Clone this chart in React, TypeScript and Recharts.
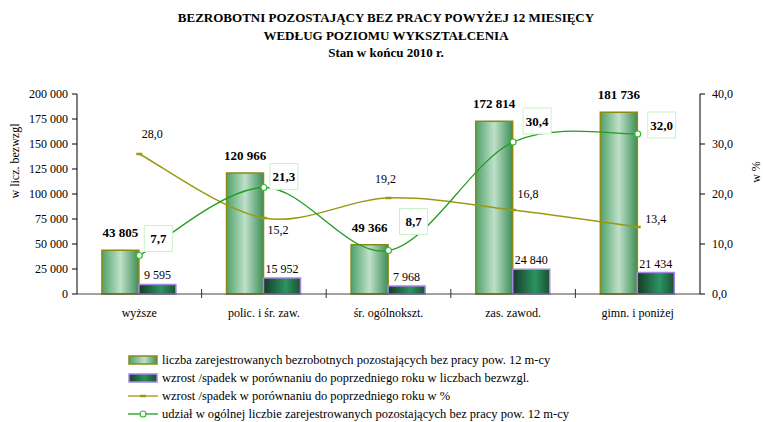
import { Bar, ComposedChart, LabelList, Line, XAxis, YAxis } from 'recharts';

const CATEGORIES = ['wyższe', 'polic. i śr. zaw.', 'śr. ogólnokszt.', 'zas. zawod.', 'gimn. i poniżej'];
const LONG_TERM_COUNT = [43805, 120966, 49366, 172814, 181736];
const CHANGE_ABSOLUTE = [9595, 15952, 7968, 24840, 21434];
const CHANGE_PERCENT = [28.0, 15.2, 19.2, 16.8, 13.4];
const SHARE_PERCENT = [7.7, 21.3, 8.7, 30.4, 32.0];
const LEFT_TICKS = [0, 25000, 50000, 75000, 100000, 125000, 150000, 175000, 200000];
const RIGHT_TICKS = [0, 10, 20, 30, 40];

const TITLE_LINES = [
  'BEZROBOTNI POZOSTAJĄCY BEZ PRACY POWYŻEJ 12 MIESIĘCY',
  'WEDŁUG POZIOMU WYKSZTAŁCENIA',
  'Stan w końcu 2010 r.',
];

const LEGEND_ITEMS = [
  { kind: 'barLight', text: 'liczba zarejestrowanych bezrobotnych pozostających bez pracy pow. 12 m-cy' },
  { kind: 'barDark', text: 'wzrost /spadek w porównaniu do poprzedniego roku w liczbach bezwzgl.' },
  { kind: 'lineOlive', text: 'wzrost /spadek w porównaniu do poprzedniego roku w %' },
  { kind: 'lineGreen', text: 'udział w ogólnej liczbie zarejestrowanych pozostających bez pracy pow. 12 m-cy' },
];

// label nudges (px) relative to each point, as placed in the source chart
const PCT_LABEL_NUDGE = [
  [13, -20],
  [14, 12],
  [-3, -19],
  [15, -16],
  [18, -8],
];
const SHARE_LABEL_NUDGE = [
  [19, -17],
  [20, -11],
  [25, -29],
  [24, -21],
  [24, -9],
];

const rows = CATEGORIES.map((name, i) => ({
  name,
  longTerm: LONG_TERM_COUNT[i],
  changeAbs: CHANGE_ABSOLUTE[i],
  changePct: CHANGE_PERCENT[i],
  share: SHARE_PERCENT[i],
}));

const FONT = '"Liberation Serif", "Times New Roman", serif';
const OLIVE = '#9a9a12';
const GREEN = '#1f9e1f';
const HALF_BAND = 623 / CATEGORIES.length / 2;

function formatThousands(value: number): string {
  return String(Math.round(value)).replace(/\B(?=(\d{3})+(?!\d))/g, ' ');
}

function formatPct(value: number): string {
  return value.toFixed(1).replace('.', ',');
}

// spreadsheet-style smoothed line (Catmull-Rom through every point)
function smoothCurve(context: any) {
  let pts: number[][] = [];
  return {
    areaStart() {},
    areaEnd() {},
    lineStart() {
      pts = [];
    },
    point(x: number, y: number) {
      pts.push([+x, +y]);
    },
    lineEnd() {
      if (!pts.length) return;
      context.moveTo(pts[0][0], pts[0][1]);
      for (let i = 0; i < pts.length - 1; i++) {
        const p0 = pts[i - 1] ?? pts[i];
        const p1 = pts[i];
        const p2 = pts[i + 1];
        const p3 = pts[i + 2] ?? p2;
        context.bezierCurveTo(
          p1[0] + (p2[0] - p0[0]) / 6,
          p1[1] + (p2[1] - p0[1]) / 6,
          p2[0] - (p3[0] - p1[0]) / 6,
          p2[1] - (p3[1] - p1[1]) / 6,
          p2[0],
          p2[1],
        );
      }
    },
  };
}

function CategoryTick(props: any) {
  const { x, y, payload, index } = props;
  const half = payload?.offset || HALF_BAND;
  return (
    <g>
      {index > 0 && <line x1={x - half} x2={x - half} y1={y - 5} y2={y + 4} stroke='#333' />}
      <text x={x} y={y + 23} textAnchor='middle' fontSize={12} fontFamily={FONT} fill='#000'>
        {payload.value}
      </text>
    </g>
  );
}

function makeBarLabel(lift: number, bold: boolean) {
  return function BarLabel(props: any) {
    const { x, y, width, value } = props;
    return (
      <text
        x={Number(x) + Number(width) / 2}
        y={Number(y) - lift}
        textAnchor='middle'
        fontSize={bold ? 13 : 12}
        fontWeight={bold ? 'bold' : 'normal'}
        fontFamily={FONT}
        fill='#000'
      >
        {formatThousands(Number(value))}
      </text>
    );
  };
}

const CountLabel = makeBarLabel(13, true);
const ChangeLabel = makeBarLabel(5, false);

function PctLabel(props: any) {
  const { x, y, value, index } = props;
  const [dx, dy] = PCT_LABEL_NUDGE[index] ?? [0, -12];
  return (
    <text
      x={x + dx}
      y={y + dy}
      textAnchor='middle'
      dominantBaseline='central'
      fontSize={12}
      fontFamily={FONT}
      fill='#000'
    >
      {formatPct(Number(value))}
    </text>
  );
}

function ShareLabel(props: any) {
  const { x, y, value, index } = props;
  const [dx, dy] = SHARE_LABEL_NUDGE[index] ?? [20, -15];
  const cx = x + dx;
  const cy = y + dy;
  return (
    <g>
      <rect x={cx - 14} y={cy - 13} width={28} height={26} fill='#fff' stroke='#c9f2c9' strokeWidth={1} />
      <text
        x={cx}
        y={cy}
        textAnchor='middle'
        dominantBaseline='central'
        fontSize={13}
        fontWeight='bold'
        fontFamily={FONT}
        fill='#000'
      >
        {formatPct(Number(value))}
      </text>
    </g>
  );
}

function DashDot(props: any) {
  const { cx, cy } = props;
  if (cx == null || cy == null) return null;
  return <line x1={cx - 3} x2={cx + 3} y1={cy} y2={cy} stroke={OLIVE} strokeWidth={2.5} />;
}

function LegendIcon({ kind }: { kind: string }) {
  if (kind === 'barLight' || kind === 'barDark') {
    const light = kind === 'barLight';
    return (
      <svg width={30} height={10}>
        <defs>
          <linearGradient id={`lg-${kind}`} x1='0' y1='0' x2='1' y2='0'>
            <stop offset='0%' stopColor={light ? '#4fa26a' : '#173f2a'} />
            <stop offset='55%' stopColor={light ? '#bfe0c9' : '#2b8e5d'} />
            <stop offset='100%' stopColor={light ? '#3f915a' : '#1b4f34'} />
          </linearGradient>
        </defs>
        <rect
          x={1}
          y={1}
          width={28}
          height={8}
          fill={`url(#lg-${kind})`}
          stroke={light ? '#8a8a14' : '#a985e6'}
          strokeWidth={1.5}
        />
      </svg>
    );
  }
  const olive = kind === 'lineOlive';
  return (
    <svg width={30} height={10}>
      <line x1={0} x2={30} y1={5} y2={5} stroke={olive ? OLIVE : GREEN} strokeWidth={1.3} />
      {olive ? (
        <line x1={12} x2={18} y1={5} y2={5} stroke={OLIVE} strokeWidth={2.5} />
      ) : (
        <circle cx={15} cy={5} r={3} fill='#fff' stroke='#33b833' strokeWidth={1.2} />
      )}
    </svg>
  );
}

export default function App() {
  return (
    <div
      style={{
        position: 'fixed',
        left: 0,
        top: 0,
        width: 763,
        height: 422,
        background: '#fff',
        fontFamily: FONT,
        overflow: 'hidden',
      }}
    >
      {TITLE_LINES.map((line, i) => (
        <div
          key={line}
          style={{
            position: 'absolute',
            left: 0,
            width: 772,
            top: 10 + i * 17.5,
            textAlign: 'center',
            fontSize: 13,
            fontWeight: 'bold',
            lineHeight: '16px',
          }}
        >
          {line}
        </div>
      ))}
      <div
        style={{
          position: 'absolute',
          left: 15,
          top: 161,
          transform: 'translate(-50%, -50%) rotate(-90deg)',
          fontSize: 12,
          whiteSpace: 'nowrap',
        }}
      >
        w licz. bezwzgl
      </div>
      <div
        style={{
          position: 'absolute',
          left: 756,
          top: 172,
          transform: 'translate(-50%, -50%) rotate(-90deg)',
          fontSize: 12,
          whiteSpace: 'nowrap',
        }}
      >
        w %
      </div>
      <div style={{ position: 'absolute', left: 0, top: 0 }}>
        <ComposedChart
          width={763}
          height={340}
          data={rows}
          margin={{ top: 94, right: 0, bottom: 16, left: 0 }}
          barCategoryGap='20%'
          barGap={0}
        >
          <defs>
            <linearGradient id='barLight' x1='0' y1='0' x2='1' y2='0'>
              <stop offset='0%' stopColor='#4fa26a' />
              <stop offset='50%' stopColor='#bfe0c9' />
              <stop offset='100%' stopColor='#3c8e57' />
            </linearGradient>
            <linearGradient id='barDark' x1='0' y1='0' x2='1' y2='0'>
              <stop offset='0%' stopColor='#163a27' />
              <stop offset='60%' stopColor='#2b9460' />
              <stop offset='100%' stopColor='#1b5035' />
            </linearGradient>
          </defs>
          <XAxis
            dataKey='name'
            xAxisId='cat'
            height={30}
            axisLine={{ stroke: '#444' }}
            tickLine={false}
            tickSize={0}
            tickMargin={0}
            tick={<CategoryTick />}
            interval={0}
          />
          <YAxis
            yAxisId='count'
            width={77}
            domain={[0, 200000]}
            ticks={LEFT_TICKS}
            tickFormatter={(v) => formatThousands(Number(v))}
            axisLine={{ stroke: '#000' }}
            tickLine={{ stroke: '#000' }}
            tickSize={5}
            tickMargin={4}
            tick={{ fontSize: 12, fontFamily: FONT, fill: '#000' }}
            interval={0}
          />
          <YAxis
            yAxisId='pct'
            orientation='right'
            width={63}
            domain={[0, 40]}
            ticks={RIGHT_TICKS}
            tickFormatter={(v) => formatPct(Number(v))}
            axisLine={{ stroke: '#000' }}
            tickLine={{ stroke: '#000' }}
            tickSize={5}
            tickMargin={7}
            tick={{ fontSize: 12, fontFamily: FONT, fill: '#000' }}
            interval={0}
          />
          <Bar
            dataKey='longTerm'
            xAxisId='cat'
            yAxisId='count'
            fill='url(#barLight)'
            stroke='#8a8a14'
            strokeWidth={1.5}
            isAnimationActive={false}
          >
            <LabelList dataKey='longTerm' content={<CountLabel />} />
          </Bar>
          <Bar
            dataKey='changeAbs'
            xAxisId='cat'
            yAxisId='count'
            fill='url(#barDark)'
            stroke='#a985e6'
            strokeWidth={1.5}
            isAnimationActive={false}
          >
            <LabelList dataKey='changeAbs' content={<ChangeLabel />} />
          </Bar>
          <Line
            dataKey='changePct'
            xAxisId='cat'
            yAxisId='pct'
            type={smoothCurve as any}
            stroke={OLIVE}
            strokeWidth={1.5}
            dot={<DashDot />}
            activeDot={false}
            isAnimationActive={false}
          >
            <LabelList dataKey='changePct' content={<PctLabel />} />
          </Line>
          <Line
            dataKey='share'
            xAxisId='cat'
            yAxisId='pct'
            type={smoothCurve as any}
            stroke={GREEN}
            strokeWidth={1.3}
            dot={{ r: 3, fill: '#fff', stroke: '#33b833', strokeWidth: 1.2 }}
            activeDot={false}
            isAnimationActive={false}
          >
            <LabelList dataKey='share' content={<ShareLabel />} />
          </Line>
        </ComposedChart>
      </div>
      <div style={{ position: 'absolute', left: 128, top: 351 }}>
        {LEGEND_ITEMS.map((item) => (
          <div
            key={item.text}
            style={{ display: 'flex', alignItems: 'center', height: 18, lineHeight: '18px' }}
          >
            <LegendIcon kind={item.kind} />
            <span style={{ marginLeft: 4, fontSize: 12.5, whiteSpace: 'nowrap' }}>{item.text}</span>
          </div>
        ))}
      </div>
    </div>
  );
}
